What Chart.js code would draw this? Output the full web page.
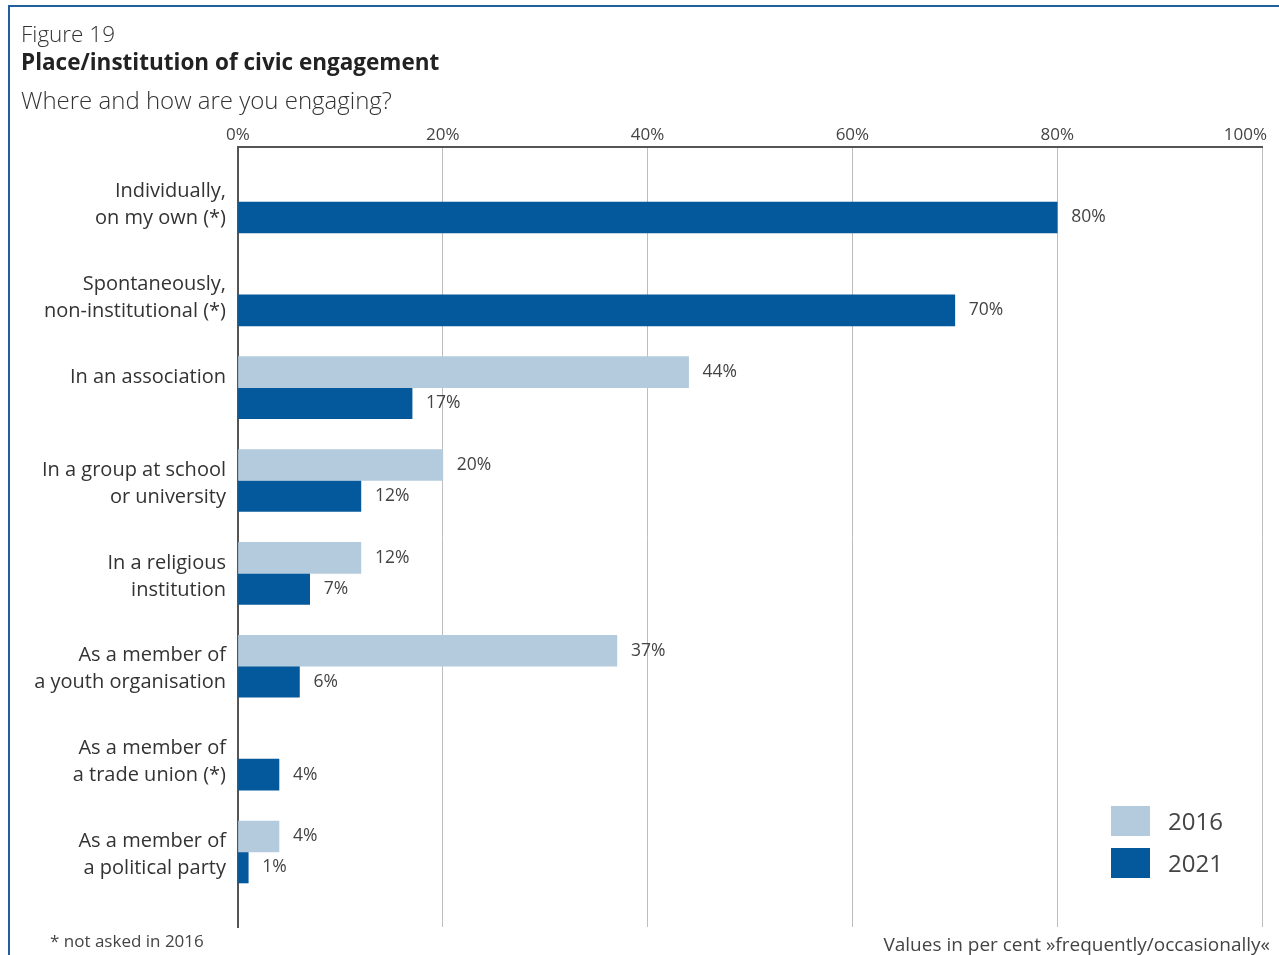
<!DOCTYPE html>
<html>
<head>
<meta charset="utf-8">
<script src="https://cdn.jsdelivr.net/npm/chart.js@4"></script>
<style>
  html, body { margin:0; padding:0; background:#fff; width:1279px; height:955px; overflow:hidden; }
  body { position:relative; font-family:'Open Sans','Noto Sans',sans-serif; color:#222; }
  #frame { position:absolute; left:8px; top:5px; width:1300px; height:1000px; border-left:2px solid #1f5f9f; border-top:2px solid #1f5f9f; }
  .t { position:absolute; white-space:nowrap; line-height:1; }
  #wrap { position:absolute; left:0; top:0; width:1279px; height:955px; }
  #legend .item { position:absolute; left:1111px; }
  #legend .box { position:absolute; left:0; top:0; width:39px; height:30px; }
  #legend .lab { position:absolute; left:57px; top:3px; font-size:24px; color:#444; line-height:24px; }
</style>
</head>
<body>
<div id="frame"></div>
<div id="wrap"><canvas id="c" width="1279" height="955"></canvas></div>
<div class="t" style="left:21px; top:23px; font-size:22.5px; font-weight:300; color:#333;">Figure 19</div>
<div class="t" style="left:21px; top:51px; font-size:22.5px; font-weight:700; color:#222;">Place/institution of civic engagement</div>
<div class="t" style="left:21px; top:88px; font-size:24px; font-weight:300; color:#333;">Where and how are you engaging?</div>
<div class="t" style="left:50px; top:932px; font-size:17px; color:#444;">* not asked in 2016</div>
<div class="t" style="right:9px; top:935px; font-size:19px; color:#444;">Values in per cent »frequently/occasionally«</div>
<div id="legend"></div>
<script>
const categories = [
  ["Individually,", "on my own (*)"],
  ["Spontaneously,", "non-institutional (*)"],
  ["In an association", ""],
  ["In a group at school", "or university"],
  ["In a religious", "institution"],
  ["As a member of", "a youth organisation"],
  ["As a member of", "a trade union (*)"],
  ["As a member of", "a political party"]
];
const seriesNames = ["2016", "2021"];
const values2016 = [null, null, 44, 20, 12, 37, null, 4];
const values2021 = [80, 70, 17, 12, 7, 6, 4, 1];
const xTicks = [0, 20, 40, 60, 80, 100];
const colors = ["#b4cbdd", "#03599b"];

Chart.defaults.font.family = "'Open Sans','Noto Sans',sans-serif";

const valueLabels = {
  id: 'valueLabels',
  afterDatasetsDraw(chart) {
    const ctx = chart.ctx;
    ctx.save();
    ctx.font = "17.5px 'Open Sans','Noto Sans',sans-serif";
    ctx.fillStyle = '#444';
    ctx.textAlign = 'left';
    ctx.textBaseline = 'middle';
    chart.data.datasets.forEach((ds, di) => {
      const meta = chart.getDatasetMeta(di);
      meta.data.forEach((el, i) => {
        const v = ds.data[i].x;
        if (v === null || v === undefined) return;
        ctx.fillText(v + '%', el.x + 14, el.y);
      });
    });
    ctx.restore();
  }
};

const xTickLabels = {
  id: 'xTickLabels',
  afterDraw(chart) {
    const ctx = chart.ctx;
    const xs = chart.scales.x;
    ctx.save();
    ctx.font = "17px 'Open Sans','Noto Sans',sans-serif";
    ctx.fillStyle = '#444';
    ctx.textAlign = 'center';
    ctx.textBaseline = 'middle';
    xTicks.forEach(t => {
      const s = t + '%';
      const w = ctx.measureText(s).width;
      let x = xs.getPixelForValue(t);
      x = Math.min(x, 1267 - w / 2);
      ctx.fillText(s, x, 135);
    });
    ctx.restore();
  }
};

const chart = new Chart(document.getElementById('c'), {
  type: 'bar',
  data: {
    datasets: [
      { label: seriesNames[0], data: values2016.map((v, i) => ({ x: v, y: i })), backgroundColor: colors[0], barThickness: 31 },
      { label: seriesNames[1], data: values2021.map((v, i) => ({ x: v, y: i })), backgroundColor: colors[1], barThickness: 31 }
    ]
  },
  options: {
    indexAxis: 'y',
    responsive: false,
    animation: false,
    layout: { padding: { left: 0, right: 17, top: 0, bottom: 28 } },
    plugins: { legend: { display: false }, tooltip: { enabled: false } },
    scales: {
      x: {
        type: 'linear',
        position: 'top',
        min: 0, max: 100,
        afterBuildTicks: s => { s.ticks = xTicks.map(v => ({ value: v })); },
        ticks: { display: false },
        grid: {
          drawTicks: false,
          color: ctx => (ctx.tick && ctx.tick.value === 0) ? 'rgba(0,0,0,0)' : '#bdbdbd',
          lineWidth: 1
        },
        border: { display: true, color: '#555', width: 2 },
        afterFit: s => { s.height = 147; s.paddingLeft = 0; s.paddingRight = 0; }
      },
      y: {
        type: 'linear',
        reverse: true,
        offset: false,
        min: -0.592, max: 7.808,
        afterBuildTicks: s => { s.ticks = categories.map((c, i) => ({ value: i })); },
        ticks: {
          padding: 12,
          labelOffset: 3,
          color: '#333',
          font: { size: 20, lineHeight: 1.35 },
          callback: v => categories[v]
        },
        grid: { display: false, drawTicks: false, offset: false },
        border: { display: true, color: '#555', width: 2 },
        afterFit: s => { s.width = 238; s.paddingTop = 0; s.paddingBottom = 0; }
      }
    }
  },
  plugins: [valueLabels, xTickLabels]
});

const legend = document.getElementById('legend');
seriesNames.forEach((name, i) => {
  const item = document.createElement('div');
  item.className = 'item';
  item.style.top = (806 + i * 42) + 'px';
  item.innerHTML = '<div class="box" style="background:' + colors[i] + '"></div><div class="lab">' + name + '</div>';
  legend.appendChild(item);
});
</script>
</body>
</html>
